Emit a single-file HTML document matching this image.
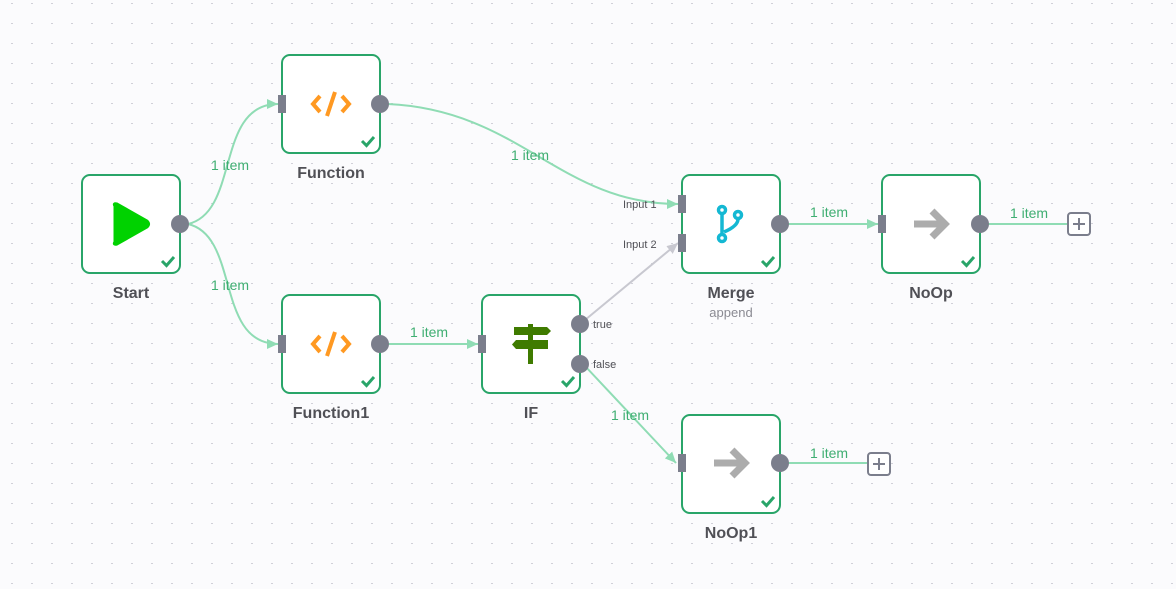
<!DOCTYPE html>
<html><head><meta charset="utf-8"><style>
html,body{margin:0;padding:0;background:#fbfbfd;}
svg{display:block;font-family:"Liberation Sans","Open Sans",sans-serif;}
</style></head><body>
<svg width="1176" height="589" viewBox="0 0 1176 589" xmlns="http://www.w3.org/2000/svg">
<defs>
<pattern id="dots" x="2" y="3" width="20" height="20" patternUnits="userSpaceOnUse">
<circle cx="10" cy="0" r="1" fill="#c2c3cc"/>
</pattern>
<marker id="ag" markerWidth="12" markerHeight="12" refX="11" refY="6" orient="auto" markerUnits="userSpaceOnUse">
<path d="M0,1 L11,6 L0,11 Z" fill="#8fdcb4"/></marker>
<marker id="agr" markerWidth="12" markerHeight="12" refX="11" refY="6" orient="auto" markerUnits="userSpaceOnUse">
<path d="M0,1 L11,6 L0,11 Z" fill="#c8c8d0"/></marker>
<g id="chk"><path d="M-6,0 L-1.5,4.5 L6,-4" fill="none" stroke="#29a569" stroke-width="3"/></g>
</defs>
<rect width="1176" height="589" fill="#fbfbfd"/>
<rect width="1176" height="589" fill="url(#dots)"/>

<g fill="none" stroke="#8fdcb4" stroke-width="2">
<path d="M188,224 C240,212 215,104 278,104" marker-end="url(#ag)"/>
<path d="M188,224 C240,236 215,344 278,344" marker-end="url(#ag)"/>
<path d="M388,104 C520,110 560,204 678,204" marker-end="url(#ag)"/>
<path d="M388,344 L478,344" marker-end="url(#ag)"/>
<path d="M585,366 L676,463" marker-end="url(#ag)"/>
<path d="M788,224 L878,224" marker-end="url(#ag)"/>
<path d="M988,224 L1068,224"/>
<path d="M788,463 L868,463"/>
</g>
<path d="M585,320 L678,243" fill="none" stroke="#c8c8d0" stroke-width="2" marker-end="url(#agr)"/>

<g font-size="14" fill="#3fae72" text-anchor="middle">
<text x="230" y="170">1 item</text>
<text x="230" y="290">1 item</text>
<text x="530" y="160">1 item</text>
<text x="429" y="337">1 item</text>
<text x="630" y="420">1 item</text>
<text x="829" y="217">1 item</text>
<text x="1029" y="218">1 item</text>
<text x="829" y="458">1 item</text>
</g>

<g fill="#fff" stroke="#29a569" stroke-width="2">
<rect x="82" y="175" width="98" height="98" rx="8"/>
<rect x="282" y="55" width="98" height="98" rx="8"/>
<rect x="282" y="295" width="98" height="98" rx="8"/>
<rect x="482" y="295" width="98" height="98" rx="8"/>
<rect x="682" y="175" width="98" height="98" rx="8"/>
<rect x="882" y="175" width="98" height="98" rx="8"/>
<rect x="682" y="415" width="98" height="98" rx="8"/>
</g>
<use href="#chk" x="168" y="261"/>
<use href="#chk" x="368" y="141"/>
<use href="#chk" x="368" y="381"/>
<use href="#chk" x="568" y="381"/>
<use href="#chk" x="768" y="261"/>
<use href="#chk" x="968" y="261"/>
<use href="#chk" x="768" y="501"/>

<g fill="#7b7e8c">
<rect x="278" y="95" width="8" height="18"/>
<rect x="278" y="335" width="8" height="18"/>
<rect x="478" y="335" width="8" height="18"/>
<rect x="678" y="195" width="8" height="18"/>
<rect x="678" y="234" width="8" height="18"/>
<rect x="878" y="215" width="8" height="18"/>
<rect x="678" y="454" width="8" height="18"/>
<circle cx="180" cy="224" r="9"/>
<circle cx="380" cy="104" r="9"/>
<circle cx="380" cy="344" r="9"/>
<circle cx="580" cy="324" r="9"/>
<circle cx="580" cy="364" r="9"/>
<circle cx="780" cy="224" r="9"/>
<circle cx="980" cy="224" r="9"/>
<circle cx="780" cy="463" r="9"/>
</g>

<g fill="#fff" stroke="#7b7e8c" stroke-width="2">
<rect x="1068" y="213" width="22" height="22" rx="3"/>
<rect x="868" y="453" width="22" height="22" rx="3"/>
</g>
<g stroke="#7b7e8c" stroke-width="2">
<path d="M1073,224 H1085 M1079,218 V230"/>
<path d="M873,464 H885 M879,458 V470"/>
</g>

<path d="M115,206 Q113,203 117,204 L147,221 Q150,224 147,227 L117,244 Q113,245 115,242 Z" fill="#00d200" stroke="#00d200" stroke-width="3" stroke-linejoin="round"/>
<g fill="none" stroke="#ff9922" stroke-width="4">
<path d="M320,96 L313,104 L320,112"/><path d="M342,96 L349,104 L342,112"/><path d="M335,92 L327,116"/>
<path d="M320,336 L313,344 L320,352"/><path d="M342,336 L349,344 L342,352"/><path d="M335,332 L327,356"/>
</g>
<g fill="#3f7b00">
<rect x="528" y="324" width="5" height="40"/>
<path d="M514,327 H547 L551,331 L547,335 H514 Z"/>
<path d="M516,340 H548 V349 H516 L512,344.5 Z"/>
</g>
<g fill="none" stroke="#14b8d3" stroke-width="3.5">
<circle cx="722" cy="210" r="3.5"/><circle cx="738" cy="215" r="3.5"/><circle cx="722" cy="238" r="3.5"/>
<path d="M722,214 V234 M738,219 Q738,226 724,232"/>
</g>
<g fill="none" stroke="#acacac" stroke-width="7">
<path d="M914,224 H944 M932,211 L945,224 L932,237"/>
<path d="M714,463 H744 M732,450 L745,463 L732,476"/>
</g>

<g font-size="16" font-weight="bold" fill="#505056" text-anchor="middle">
<text x="131" y="298">Start</text>
<text x="331" y="178">Function</text>
<text x="331" y="418">Function1</text>
<text x="531" y="418">IF</text>
<text x="731" y="298">Merge</text>
<text x="931" y="298">NoOp</text>
<text x="731" y="538">NoOp1</text>
</g>
<text x="731" y="317" font-size="13" fill="#8a8a92" text-anchor="middle">append</text>
<g font-size="11" fill="#505056">
<text x="623" y="208">Input 1</text>
<text x="623" y="248">Input 2</text>
<text x="593" y="328">true</text>
<text x="593" y="368">false</text>
</g>
</svg>
</body></html>
